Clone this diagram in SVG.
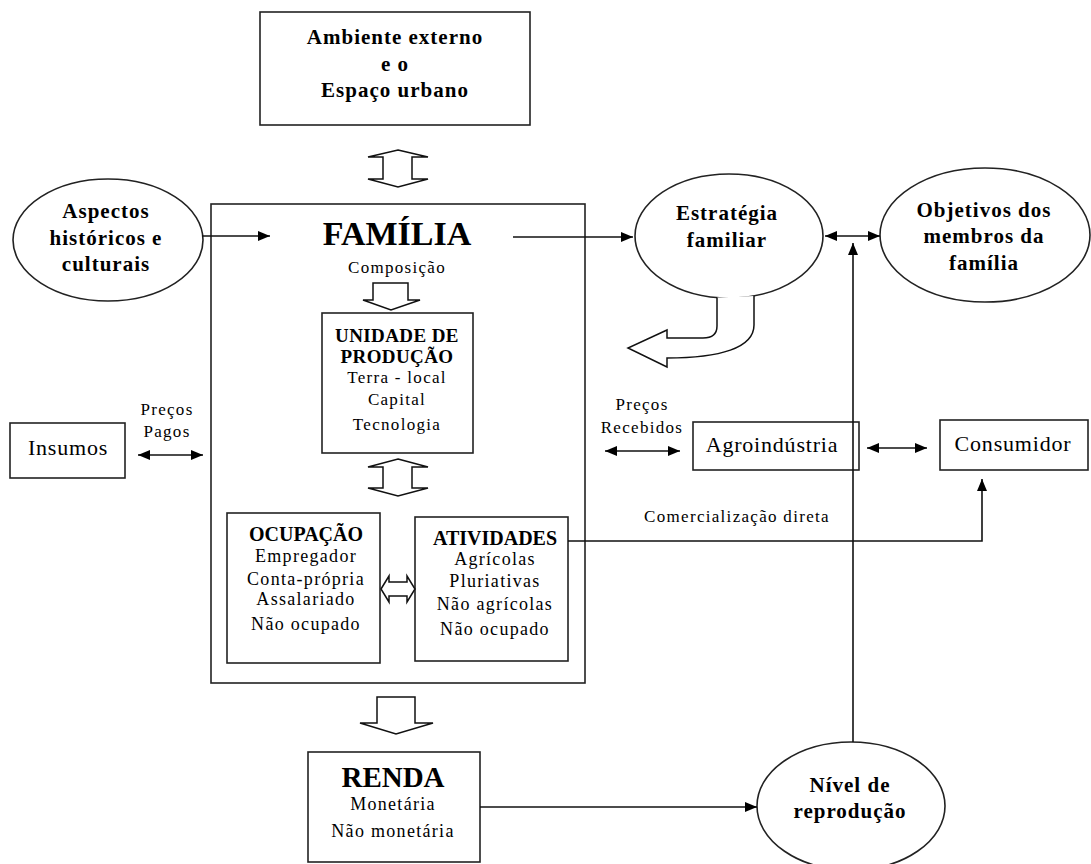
<svg xmlns="http://www.w3.org/2000/svg" width="1091" height="864" viewBox="0 0 1091 864">
<defs>
<marker id="ah" viewBox="0 0 12 10" refX="12" refY="5" markerWidth="12" markerHeight="10" markerUnits="userSpaceOnUse" orient="auto-start-reverse"><path d="M0,0 L12,5 L0,10 z" fill="#000"/></marker>
<style>
.box{fill:#fff;stroke:#222;stroke-width:1.6}
.frame{fill:none;stroke:#222;stroke-width:1.6}
.blk{fill:#fff;stroke:#111;stroke-width:1.5;stroke-linejoin:miter}
.ln{fill:none;stroke:#111;stroke-width:1.6}
text{font-family:"Liberation Serif","Times New Roman",serif;fill:#000;text-anchor:middle}
.b21{font-weight:bold;font-size:21px;letter-spacing:1px}
.b20{font-weight:bold;font-size:20px}
.b19{font-weight:bold;font-size:19px;letter-spacing:0.4px}
.t17{font-size:17px;letter-spacing:1.3px}
.t18{font-size:18px;letter-spacing:1.3px}
.t22{font-size:22px;letter-spacing:0.8px}
</style>
</defs>
<rect width="1091" height="864" fill="#fff"/>

<g id="ambiente">
<rect class="box" x="260" y="12" width="270" height="113"/>
<text class="b21" x="395" y="44">Ambiente externo</text>
<text class="b21" x="395" y="71">e o</text>
<text class="b21" x="395" y="97">Espaço urbano</text>
</g>

<g id="aspectos">
<ellipse class="box" cx="108" cy="240" rx="95" ry="61"/>
<text class="b21" x="106" y="218">Aspectos</text>
<text class="b21" x="106" y="245">históricos e</text>
<text class="b21" x="106" y="271">culturais</text>
</g>

<g id="familia">
<rect class="frame" x="211" y="204" width="374" height="479"/>
<text x="397" y="245" style="font-weight:bold;font-size:34px">FAMÍLIA</text>
<text class="t17" x="397" y="273">Composição</text>
</g>

<g id="unidade">
<rect class="box" x="322" y="313" width="151" height="140"/>
<text class="b19" x="397" y="342">UNIDADE DE</text>
<text class="b19" x="397" y="363">PRODUÇÃO</text>
<text class="t17" x="397" y="383">Terra - local</text>
<text class="t17" x="397" y="405">Capital</text>
<text class="t17" x="397" y="430">Tecnologia</text>
</g>

<g id="ocupacao">
<rect class="box" x="227" y="513" width="153" height="150"/>
<text class="b20" x="306" y="541">OCUPAÇÃO</text>
<text class="t18" x="306" y="562">Empregador</text>
<text class="t18" x="306" y="585">Conta-própria</text>
<text class="t18" x="306" y="605">Assalariado</text>
<text class="t18" x="306" y="630">Não ocupado</text>
</g>

<g id="atividades">
<rect class="box" x="415" y="517" width="153" height="144"/>
<text class="b20" x="495" y="545">ATIVIDADES</text>
<text class="t18" x="495" y="565">Agrícolas</text>
<text class="t18" x="495" y="587">Pluriativas</text>
<text class="t18" x="495" y="610">Não agrícolas</text>
<text class="t18" x="495" y="635">Não ocupado</text>
</g>

<g id="insumos">
<rect class="box" x="10" y="423" width="115" height="55"/>
<text class="t22" x="68" y="455">Insumos</text>
<text class="t17" x="167" y="415">Preços</text>
<text class="t17" x="167" y="437">Pagos</text>
</g>

<g id="estrategia">
<ellipse class="box" cx="729" cy="236" rx="94" ry="62"/>
<text class="b21" x="727" y="220">Estratégia</text>
<text class="b21" x="727" y="247">familiar</text>
</g>

<g id="objetivos">
<ellipse class="box" cx="985" cy="235" rx="105" ry="67"/>
<text class="b21" x="984" y="217">Objetivos dos</text>
<text class="b21" x="984" y="243">membros da</text>
<text class="b21" x="984" y="270">família</text>
</g>

<g id="agroindustria">
<text class="t17" x="642" y="410">Preços</text>
<text class="t17" x="642" y="433">Recebidos</text>
<rect class="frame" x="693" y="422" width="166" height="48"/>
<text class="t22" x="772" y="452">Agroindústria</text>
</g>

<g id="consumidor">
<rect class="box" x="940" y="420" width="148" height="50"/>
<text class="t22" x="1013" y="451">Consumidor</text>
<text class="t17" x="737" y="522">Comercialização direta</text>
</g>

<g id="renda">
<rect class="box" x="308" y="752" width="172" height="110"/>
<text x="393" y="787" style="font-weight:bold;font-size:29px">RENDA</text>
<text class="t18" x="393" y="810">Monetária</text>
<text class="t18" x="393" y="837">Não monetária</text>
</g>

<g id="nivel">
<ellipse class="box" cx="851" cy="806" rx="94" ry="64"/>
<text class="b21" x="850" y="792">Nível de</text>
<text class="b21" x="850" y="818">reprodução</text>
</g>

<g id="connectors">
<line class="ln" x1="202" y1="236" x2="270" y2="236" marker-end="url(#ah)"/>
<line class="ln" x1="513" y1="237" x2="633" y2="237" marker-end="url(#ah)"/>
<line class="ln" x1="825" y1="236" x2="880" y2="236" marker-start="url(#ah)" marker-end="url(#ah)"/>
<line class="ln" x1="853" y1="742" x2="853" y2="243" marker-end="url(#ah)"/>
<line class="ln" x1="138" y1="455" x2="203" y2="455" marker-start="url(#ah)" marker-end="url(#ah)"/>
<line class="ln" x1="605" y1="451" x2="680" y2="451" marker-start="url(#ah)" marker-end="url(#ah)"/>
<line class="ln" x1="867" y1="448" x2="927" y2="448" marker-start="url(#ah)" marker-end="url(#ah)"/>
<polyline class="ln" points="568,541 982,541 982,479" marker-end="url(#ah)"/>
<line class="ln" x1="480" y1="807" x2="757" y2="807" marker-end="url(#ah)"/>
<polygon class="blk" points="398,150 428,157 412,157 412,179 428,179 398,187 368,179 383,179 383,157 368,157"/>
<polygon class="blk" points="398,459 428,467 412,467 412,488 428,488 398,496 368,488 383,488 383,467 368,467"/>
<polygon class="blk" points="373,283 408,283 408,300 420,300 391,310 363,300 373,300"/>
<polygon class="blk" points="377,697 415,697 415,723 433,723 396,734 360,723 377,723"/>
<polygon class="blk" points="381,589 389,576 389,582 407,582 407,576 415,589 407,602 407,596 389,596 389,602"/>
<path class="blk" d="M717,297.5 L717,326 Q717,338 703,338 L667,338 L667,330 L628,348 L667,367 L667,358 C720,358 754,348 754,325 L754,296"/>
</g>
</svg>
